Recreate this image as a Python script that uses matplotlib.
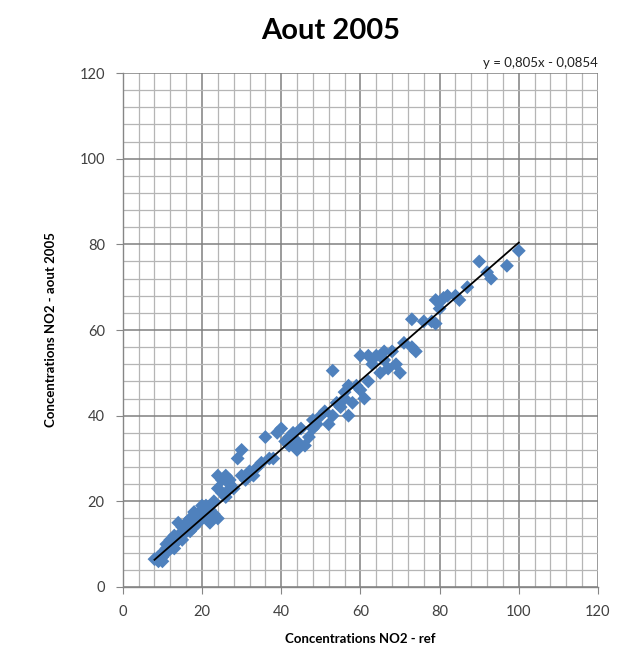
import matplotlib
matplotlib.use("Agg")
import matplotlib.pyplot as plt
import numpy as np

title = "Aout 2005"
xlabel = "Concentrations NO2 - ref"
ylabel = "Concentrations NO2 - aout 2005"
equation = "y = 0,805x - 0,0854"
slope = 0.805
intercept = -0.0854

ref = [100, 97, 93, 92, 90, 87, 85, 82, 81, 80, 79, 80, 78, 79, 76, 73, 73, 74,
       68, 66, 64, 62, 60, 63, 67, 69, 70, 65, 62, 60, 61, 57, 56, 56, 55, 58, 57, 53,
       53, 52, 50, 49, 48, 46, 47, 43, 42, 41, 40, 39, 42, 44, 36, 37, 38,
       34, 33, 32, 30, 30, 29, 27, 26, 25, 24, 25, 26, 27, 24, 23, 22, 21, 20, 19, 18, 20,
       24, 22, 23, 17, 16, 15, 14, 15, 16, 17, 14, 13, 12, 13, 12, 11, 10, 11, 10, 9, 9, 8, 10,
       19, 18, 20, 51, 54, 59, 45, 35, 28, 31, 15, 13, 11, 9, 12, 14, 16, 18, 21, 26, 44, 48, 66, 71, 84]
aout = [78.5, 75, 72, 73.5, 76, 70, 67, 68, 67.5, 66.5, 67, 65, 62, 61.5, 62, 62.5, 56, 55,
        55, 55, 54, 54, 54, 52, 51, 52, 50, 50, 48, 46, 44, 47, 45.5, 44, 42, 43, 40, 50.5,
        40, 38, 40, 38, 37, 33, 35, 36, 35, 34, 37, 36, 33, 32, 35, 30, 30,
        28, 26, 27, 32, 26, 30, 25, 26, 25, 23, 22, 21, 24, 26, 20, 18, 17, 18, 17, 17.5, 16,
        16, 15, 17, 16, 15, 14, 15, 12, 13, 13, 11, 12, 11, 10, 9, 9, 8, 10, 7, 7, 6, 6.5, 6,
        15, 14, 19, 41, 43, 47, 37, 29, 23, 25, 11, 9, 8, 7, 10, 12, 14, 15, 19, 22, 34, 39, 53, 57, 68]

fig = plt.figure(figsize=(6.43, 6.64), dpi=100)
ax = fig.add_axes([0.191, 0.116, 0.739, 0.774])

ax.set_xlim(0, 120)
ax.set_ylim(0, 120)
ax.set_xticks(np.arange(0, 121, 20))
ax.set_yticks(np.arange(0, 121, 20))
ax.set_xticks(np.arange(0, 121, 4), minor=True)
ax.set_yticks(np.arange(0, 121, 4), minor=True)
ax.grid(which="major", color="#808080", linewidth=1.1)
ax.grid(which="minor", color="#b5b5b5", linewidth=0.9)
ax.set_axisbelow(True)
ax.tick_params(which="minor", length=0)
ax.tick_params(which="major", length=5, color="#868686", labelsize=10.5, labelcolor="#404040", pad=8)
for s in ["top", "right"]:
    ax.spines[s].set_visible(False)
for s in ["left", "bottom"]:
    ax.spines[s].set_color("#868686")
    ax.spines[s].set_linewidth(1.0)

ax.scatter(ref, aout, marker="D", s=50, color="#4F81BD", edgecolors="none", zorder=3)
xs = np.array([min(ref), max(ref)])
ax.plot(xs, slope * xs + intercept, color="black", linewidth=1.3, zorder=4)

font = ["Lato", "DejaVu Sans"]
for lab in ax.get_xticklabels() + ax.get_yticklabels():
    lab.set_family(font)
ax.set_xlabel(xlabel, fontsize=9.5, fontweight="bold", family=font, labelpad=10)
ax.set_ylabel(ylabel, fontsize=9.5, fontweight="bold", family=font, labelpad=16)
fig.text(0.515, 0.953, title, ha="center", va="center", fontsize=21, fontweight="bold", family=font)
ax.text(1.0, 1.008, equation, transform=ax.transAxes, ha="right", va="bottom", fontsize=9.5, family=font, color="#202020")

fig.savefig("out.png", dpi=100)
